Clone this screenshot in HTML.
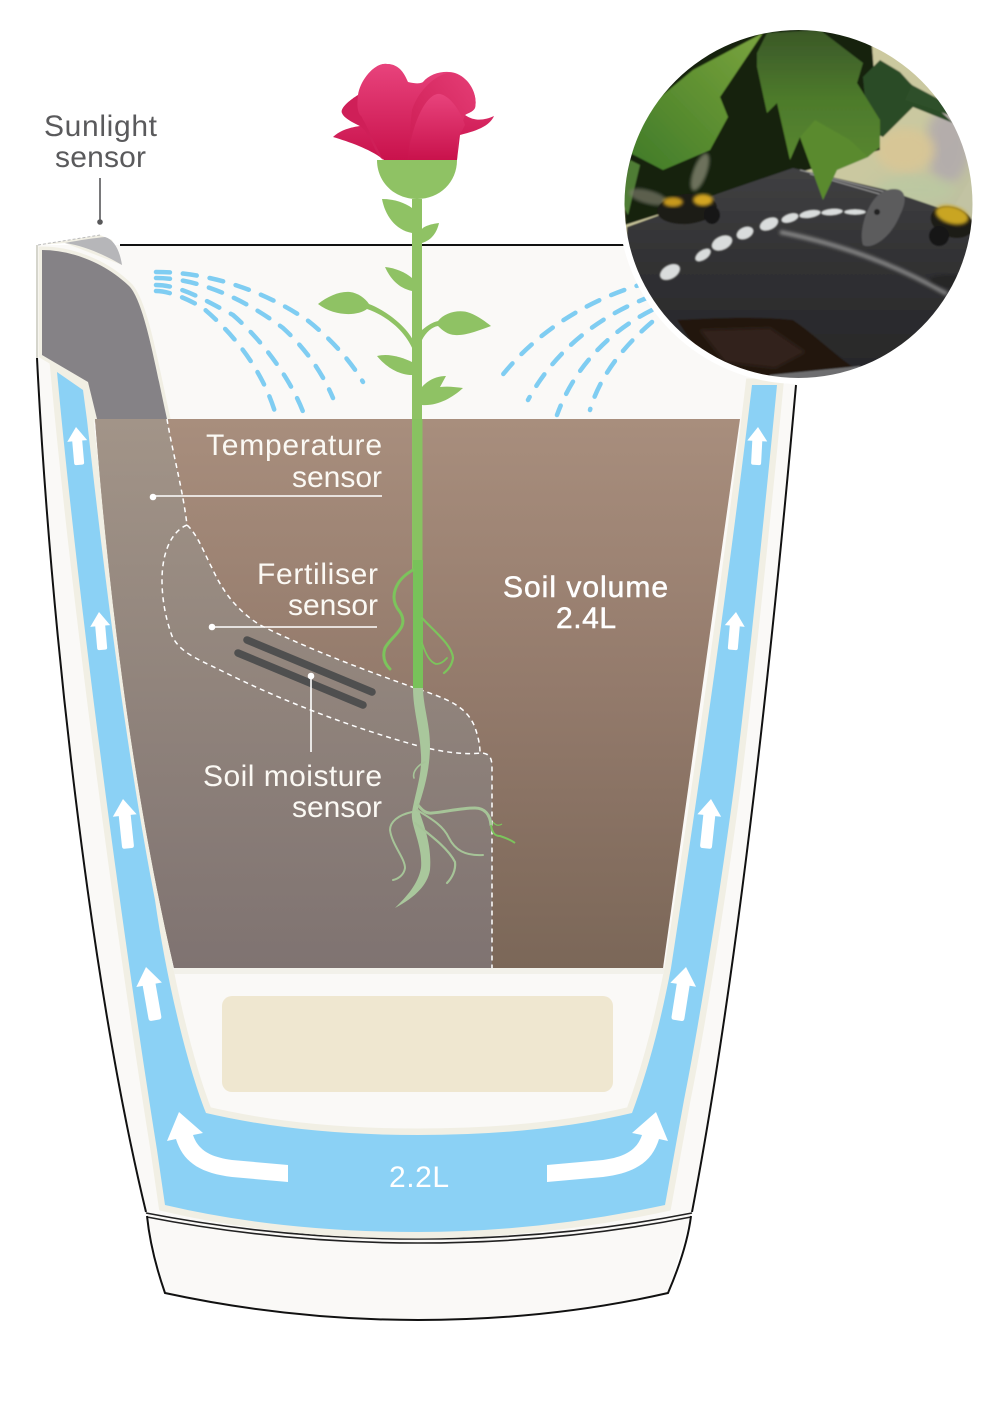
<!DOCTYPE html>
<html><head><meta charset="utf-8"><style>html,body{margin:0;padding:0;background:#fff}svg{display:block}text{font-family:"Liberation Sans",sans-serif}</style></head><body>
<svg width="1000" height="1415" viewBox="0 0 1000 1415" xmlns="http://www.w3.org/2000/svg">
<defs>
<linearGradient id="soil" x1="0" y1="0" x2="0" y2="1"><stop offset="0" stop-color="#a88e7d"/><stop offset=".5" stop-color="#937a6b"/><stop offset="1" stop-color="#7b6758"/></linearGradient>
<linearGradient id="grey" gradientUnits="userSpaceOnUse" x1="0" y1="419" x2="0" y2="968"><stop offset="0" stop-color="#a29488"/><stop offset=".4" stop-color="#94877e"/><stop offset="1" stop-color="#7f7371"/></linearGradient>
<linearGradient id="petal" x1="0" y1="0" x2="0" y2="1"><stop offset="0" stop-color="#e8437c"/><stop offset="1" stop-color="#c9124c"/></linearGradient>
<linearGradient id="petal2" x1="0" y1="1" x2="1" y2="0"><stop offset="0" stop-color="#cb1a52"/><stop offset="1" stop-color="#e53d75"/></linearGradient>
<linearGradient id="sky" x1="0" y1="0" x2="1" y2="1"><stop offset="0" stop-color="#d4cc9c"/><stop offset=".55" stop-color="#c9c8a0"/><stop offset="1" stop-color="#adb3a0"/></linearGradient>
<linearGradient id="potg" x1="0" y1="0" x2="0" y2="1"><stop offset="0" stop-color="#404042"/><stop offset=".5" stop-color="#2f2f31"/><stop offset="1" stop-color="#262628"/></linearGradient>
<linearGradient id="lf1" x1="1" y1="0" x2="0" y2="1"><stop offset="0" stop-color="#7aa43f"/><stop offset=".5" stop-color="#5d8f30"/><stop offset="1" stop-color="#3f7a2a"/></linearGradient>
<linearGradient id="lf2" x1="0" y1="0" x2="0" y2="1"><stop offset="0" stop-color="#3a5727"/><stop offset=".4" stop-color="#4d7a2c"/><stop offset="1" stop-color="#5d8d2e"/></linearGradient>
<clipPath id="c"><circle cx="798.5" cy="204" r="174"/></clipPath>
<filter id="b"><feGaussianBlur stdDeviation=".8"/></filter>
<filter id="b3"><feGaussianBlur stdDeviation="5"/></filter>
<filter id="b2"><feGaussianBlur stdDeviation="1.6"/></filter>
<g id="a"><path d="M0,0L10,14L5,14L5,36Q5,38 3,38L-3,38Q-5,38 -5,36L-5,14L-10,14Z" fill="#fff"/></g>
<g id="A"><path d="M0,0L13,18L6.5,18L6.5,51Q6.5,54 4,54L-4,54Q-6.5,54 -6.5,51L-6.5,18L-13,18Z" fill="#fff"/></g>
</defs>

<!-- pot body -->
<path d="M37,245L120,245L650,245L796,385C775,620 740,960 692,1212L668,1293Q550,1320 418,1320Q290,1320 165,1293L146,1212C90,980 50,620 37,358Z" fill="#faf9f7"/>
<path d="M37,358C50,620 90,980 146,1212" fill="none" stroke="#111" stroke-width="2"/>
<path d="M796,385C775,620 740,960 692,1212" fill="none" stroke="#111" stroke-width="2"/>
<path d="M120,245L650,245" stroke="#111" stroke-width="2"/>
<path d="M37,245L37,358" stroke="#d5d5cc" stroke-width="2"/>
<path d="M146,1213Q280,1239 418,1239Q560,1239 692,1213" fill="none" stroke="#222" stroke-width="1.6"/>
<path d="M147,1217Q280,1243 418,1243Q560,1243 691,1217" fill="none" stroke="#222" stroke-width="1.6"/>
<path d="M147,1216C150,1245 157,1270 165,1293Q290,1320 418,1320Q550,1320 668,1293C680,1265 688,1240 691,1216" fill="none" stroke="#111" stroke-width="2"/>

<!-- reservoir -->
<path d="M57,372L83,390L87,420C107,600 128,760 155,900C165,970 185,1060 206,1113Q300,1135 418,1135Q540,1135 632,1113C650,1065 662,1015 671,968C700,780 730,570 752,385L777,385C762,540 745,700 735,780C722,880 700,1020 684,1100L665,1205Q540,1232 418,1232Q280,1232 165,1205L157,1150C125,950 80,620 57,372Z" fill="#8bd1f5" stroke="#f1efe4" stroke-width="13" stroke-linejoin="miter" paint-order="stroke"/>
<rect x="174" y="966" width="490" height="8" fill="#f2f1ea"/>
<rect x="222" y="996" width="391" height="96" rx="10" fill="#efe7d0"/>

<!-- tank + sensor -->
<path d="M38,245L100,235L112,240L122,265L65,243Z" fill="#f1efe4"/>
<path d="M65,243C80,240 95,238 105,237C115,240 120,252 122,265C105,255 85,246 65,243Z" fill="#b6b6b9"/>
<path d="M38,245L100,235" stroke="#bbb" stroke-width="1" stroke-dasharray="3 2" fill="none"/>
<path d="M42,250C70,250 105,262 130,287C145,305 155,365 167,419L97,419L88,382L42,355Z" fill="#858286" stroke="#f1efe4" stroke-width="7" stroke-linejoin="miter" paint-order="stroke"/>

<!-- soil -->
<path d="M95,419L740,419L663,968L174,968C135,800 110,610 95,419Z" fill="url(#soil)"/>
<path d="M95,419L167,419C172,450 183,490 187,525C198,535 205,555 212,568C222,590 236,610 260,625C310,650 370,672 415,688C445,698 465,705 474,725C478,735 480,745 480,752L488,753L492,760L492,968L174,968C135,800 110,610 95,419Z" fill="url(#grey)"/>
<g fill="none" stroke="#fff" stroke-width="1.5" stroke-dasharray="5 4">
<path d="M167,419C172,450 183,490 187,525C198,535 205,555 212,568C222,590 236,610 260,625C310,650 370,672 415,688C445,698 465,705 474,725C478,735 480,745 480,752"/>
<path d="M187,525C170,532 162,555 162,580C162,605 168,625 172,636C180,652 195,658 220,670C280,700 350,727 415,745C440,752 465,755 482,753C490,754 492,758 492,768L492,968" />
</g>

<!-- water spray -->
<g fill="none" stroke="#7fcdf2" stroke-width="4.5" stroke-linecap="round" stroke-dasharray="14 13">
<path d="M156,272C200,272 255,285 307,320C330,338 350,360 363,382"/>
<path d="M156,278C190,278 235,292 283,328C305,348 322,372 333,398"/>
<path d="M156,285C180,285 205,300 233,315C262,340 292,380 305,417"/>
<path d="M156,291C170,291 190,300 203,308C235,335 262,370 275,412"/>
<path d="M650,282C600,295 540,325 497,382"/>
<path d="M652,296C600,315 555,350 528,400"/>
<path d="M652,310C612,330 575,365 557,415"/>
<path d="M652,322C625,345 600,375 590,410"/>
</g>

<!-- arrows -->
<use href="#a" transform="translate(76,427) rotate(-5)"/>
<use href="#a" transform="translate(99,612) rotate(-5)"/>
<use href="#A" transform="translate(123,799) rotate(-6) scale(.92)"/>
<use href="#A" transform="translate(146,967) rotate(-10)"/>
<use href="#a" transform="translate(758,427) rotate(3)"/>
<use href="#a" transform="translate(736,612) rotate(5)"/>
<use href="#A" transform="translate(711,799) rotate(6) scale(.92)"/>
<use href="#A" transform="translate(686,967) rotate(9)"/>
<path d="M179,1112L203,1133L193,1135C198,1150 210,1157 232,1160L288,1165L288,1182L232,1177C200,1173 183,1162 176,1139L167,1141Z" fill="#fff"/>
<path d="M656,1112L632,1133L642,1135C637,1150 625,1157 603,1160L547,1165L547,1182L603,1177C635,1173 652,1162 659,1139L668,1141Z" fill="#fff"/>

<!-- plant -->
<g fill="#8fc264">
<path d="M377,160L457,160C457,182 440,199 417,199C394,199 377,182 377,160Z"/>
<rect x="412" y="199" width="10" height="370"/>
<path d="M382,199C395,199 405,203 412,208L412,233C395,230 385,215 382,199Z"/>
<path d="M439,223C430,224 423,227 422,229L422,243C432,240 437,232 439,223Z"/>
<path d="M385,267C395,268 405,272 412,278L412,291C398,288 390,278 385,267Z"/>
<path d="M318,304C328,296 340,291 350,292C358,293 365,298 369,304C385,310 405,325 413,340L413,350C405,330 385,315 367,309C358,316 335,317 318,304Z"/>
<path d="M422,330C428,325 433,322 438,321C445,312 460,309 470,313C478,316 486,322 491,326C480,330 465,336 455,335C448,335 442,330 438,326C432,327 426,332 422,340Z"/>
<path d="M377,356C388,353 402,357 412,362L412,375C398,375 385,366 377,356Z"/>
<path d="M422,387C428,380 437,376 446,376L440,387C448,386 455,387 463,388C452,398 438,406 422,405Z"/>
</g>
<rect x="412.500" y="419" width="10" height="150" fill="#88c261"/>
<rect x="413" y="560" width="10" height="128" fill="#78c25a"/>
<g fill="none" stroke="#7cc45c" stroke-linecap="round">
<path d="M413,570C395,580 388,598 400,612C410,628 392,635 385,648C382,657 385,664 390,669" stroke-width="3"/>
<path d="M422,618C435,632 452,645 453,658C452,665 448,670 444,673" stroke-width="2.2"/>
<path d="M422,643C426,655 430,662 436,664C442,664 445,660 447,658" stroke-width="1.8"/>
</g>
<path d="M413,688L423,688C423,705 430,725 430,745C430,770 424,790 418,808C424,825 432,845 430,870C427,888 410,900 395,908C405,898 418,885 421,868C423,845 410,825 412,812C416,790 422,775 421,755C420,730 413,710 413,688Z" fill="#a9c79c"/>
<g fill="none" stroke="#a6c498" stroke-linecap="round">
<path d="M412,812C398,815 390,822 390,830C392,845 405,858 405,868C404,875 398,879 393,880" stroke-width="2"/>
<path d="M418,805C422,810 426,814 432,813C445,812 460,808 475,808C485,808 490,815 491,825" stroke-width="3"/>
<path d="M417,810C430,818 443,825 449,838C455,850 465,856 483,855" stroke-width="2"/>
<path d="M415,823C430,835 448,848 455,862C456,870 452,878 447,883" stroke-width="2.2"/>
<path d="M425,762C418,765 412,772 414,778" stroke-width="1.6"/>
</g>
<path d="M491,825C492,833 495,836 500,836C506,838 511,840 515,843" fill="none" stroke="#7cc45c" stroke-width="2"/>
<path d="M493,822C496,826 499,826 502,824" fill="none" stroke="#7cc45c" stroke-width="1.2"/>

<!-- rose -->
<path d="M384,160C372,150 350,142 333,137C340,130 352,127 360,126C352,122 344,118 342,113C340,108 350,100 358,95C360,80 375,62 387,64C400,64 405,75 408,82C420,85 423,82 423,82C430,73 445,70 455,73C470,78 478,95 475,108C473,112 468,113 465,115C475,122 485,120 494,116C490,125 480,130 460,135L457,160Z" fill="url(#petal)"/>
<path d="M342,113C340,108 350,100 358,95C357,105 360,115 365,123L383,160C372,150 372,135 360,126C352,122 344,118 342,113Z" fill="#cf1f58"/>
<path d="M358,97C360,80 375,62 387,64C400,64 408,78 410,95C414,115 412,140 411,160L384,160C380,140 372,125 360,115C357,110 357,103 358,97Z" fill="url(#petal)"/>
<path d="M412,110C420,85 445,68 456,74C470,80 478,95 475,108L465,115L458,135L457,160L408,160C410,140 410,125 412,110Z" fill="url(#petal2)"/>
<path d="M408,160C410,130 425,92 440,94C450,96 460,110 465,125L457,140L457,160Z" fill="url(#petal)"/>

<!-- sensors -->
<g stroke="#4f4f4f" stroke-width="7.500" stroke-linecap="round"><path d="M247,640L372,692"/><path d="M238,653L363,705"/></g>
<g stroke="#fff" stroke-width="1.6" fill="#fff">
<path d="M152,496L382,496"/><circle cx="153" cy="497" r="2.5"/>
<path d="M212,627L377,627"/><circle cx="212" cy="627" r="2.5"/>
<path d="M311,676L311,752"/><circle cx="311" cy="676" r="2.5"/>
</g>
<path d="M100,178L100,221" stroke="#58585a" stroke-width="1.6"/><circle cx="100" cy="222" r="2.8" fill="#58585a"/>

<!-- labels -->
<g font-size="30" fill="#5a5a5c">
<text x="44" y="136" textLength="113" lengthAdjust="spacing">Sunlight</text>
<text x="55" y="167" textLength="91" lengthAdjust="spacing">sensor</text>
</g>
<g font-size="30" fill="#fbf9f4">
<text x="206" y="455" textLength="176" lengthAdjust="spacing">Temperature</text>
<text x="292" y="487" textLength="90" lengthAdjust="spacing">sensor</text>
<text x="257" y="584" textLength="121" lengthAdjust="spacing">Fertiliser</text>
<text x="288" y="615" textLength="90" lengthAdjust="spacing">sensor</text>
<text x="203" y="786" textLength="179" lengthAdjust="spacing">Soil moisture</text>
<text x="292" y="817" textLength="90" lengthAdjust="spacing">sensor</text>
</g>
<g font-size="30" fill="#fff" stroke="#fff" stroke-width=".5">
<text x="503" y="597" textLength="165" lengthAdjust="spacing">Soil volume</text>
<text x="556" y="628" textLength="60" lengthAdjust="spacing">2.4L</text>
</g>
<text x="389" y="1187" font-size="30" fill="#fff" textLength="60" lengthAdjust="spacing">2.2L</text>

<!-- photo -->
<circle cx="798.5" cy="204" r="180" fill="#fff"/>
<g clip-path="url(#c)">
<g filter="url(#b)">
<rect x="620" y="25" width="360" height="360" fill="url(#sky)"/>
<ellipse cx="948" cy="145" rx="22" ry="38" fill="#b0a8ae" opacity=".8" filter="url(#b3)"/>
<ellipse cx="905" cy="150" rx="30" ry="22" fill="#d9c695" opacity=".9" filter="url(#b3)"/>
<ellipse cx="915" cy="190" rx="40" ry="14" fill="#b9c9a2" opacity=".7" filter="url(#b3)"/>
<path d="M620,20L870,20L880,150L790,175L720,195L625,225Z" fill="#14200e"/>
<path d="M763,33L720,97L728,117L710,150L663,170L630,153L640,125L653,103L693,70Z" fill="url(#lf1)"/>
<path d="M630,160L640,165L628,215L620,200Z" fill="#4f7d34"/>
<path d="M863,77L880,60L900,72L910,83L953,123L913,107L883,137L868,130Z" fill="#2c4b28"/>
<path d="M905,100L912,85L950,105L975,125L930,108Z" fill="#2f5029"/>
<path d="M757,53L767,33L820,30L863,63L857,83L880,120L880,147L868,157L837,170L823,200L800,137L790,160L777,103L767,113L757,67Z" fill="url(#lf2)"/>
<path d="M627,227L720,193L793,168L887,190L980,222L980,385L620,385Z" fill="url(#potg)"/>
<path d="M800,170L885,192M810,174L890,197" stroke="#9a9a9a" stroke-width="1" fill="none"/>
<path d="M800,137L823,200L837,170L868,157L850,140L815,120Z" fill="#5a8a2e"/>
<path d="M780,232Q870,250 947,294" fill="none" stroke="#8a8a8a" stroke-width="4" filter="url(#b2)"/>
<path d="M677,320C710,318 760,316 793,320C815,335 835,355 853,367L840,385L720,385Z" fill="#231810"/>
<path d="M700,330L770,328L805,352L775,368L725,362Z" fill="#33241a" filter="url(#b2)"/>
<path d="M770,375L860,366L860,385L770,385Z" fill="#77787a" opacity=".9"/>
<path d="M887,190C907,185 908,200 900,215C890,240 870,250 863,245C858,232 868,195 887,190Z" fill="#5c5c5d"/>
<circle cx="877" cy="212" r="3" fill="#222"/>
<g fill="#d9dcdc" stroke="#555" stroke-width="1">
<ellipse cx="670" cy="272" rx="11" ry="7" transform="rotate(-30 670 272)"/>
<ellipse cx="703" cy="255" rx="9" ry="5" transform="rotate(-35 703 255)"/>
<ellipse cx="722" cy="243" rx="11" ry="7" transform="rotate(-25 722 243)"/>
<ellipse cx="745" cy="233" rx="9" ry="6" transform="rotate(-25 745 233)"/>
<ellipse cx="769" cy="224" rx="10" ry="6" transform="rotate(-25 769 224)"/>
<ellipse cx="790" cy="218" rx="9" ry="4.5" transform="rotate(-18 790 218)"/>
<ellipse cx="810" cy="214" rx="11" ry="4" transform="rotate(-10 810 214)"/>
<ellipse cx="832" cy="212" rx="11" ry="3.500" transform="rotate(-5 832 212)"/>
<ellipse cx="855" cy="212" rx="11" ry="3"/>
</g>
<ellipse cx="648" cy="197" rx="20" ry="7" fill="#7a7a6a" opacity=".7" transform="rotate(15 648 197)" filter="url(#b2)"/>
<ellipse cx="700" cy="172" rx="7" ry="20" fill="#a8a890" opacity=".6" transform="rotate(20 700 172)" filter="url(#b2)"/>
<ellipse cx="687" cy="209" rx="30" ry="15" fill="#1c1a14" transform="rotate(-5 687 209)"/>
<ellipse cx="673" cy="202" rx="10" ry="5" fill="#c8991f" filter="url(#b2)"/>
<ellipse cx="703" cy="200" rx="10" ry="6" fill="#d3a522" filter="url(#b2)"/>
<ellipse cx="712" cy="215" rx="8" ry="9" fill="#151515"/>
<path d="M955,205L973,175L975,225Z" fill="#c6c5a6" opacity=".5"/>
<ellipse cx="965" cy="283" rx="35" ry="7" fill="#1b1b1b" opacity=".5" transform="rotate(5 965 283)" filter="url(#b2)"/>
<ellipse cx="952" cy="222" rx="22" ry="15" fill="#1e1b12" transform="rotate(20 952 222)"/>
<ellipse cx="952" cy="215" rx="17" ry="9" fill="#c9a523" transform="rotate(15 952 215)" filter="url(#b2)"/>
<ellipse cx="939" cy="236" rx="10" ry="10" fill="#141414"/>
</g>
</g>
</svg>
</body></html>
